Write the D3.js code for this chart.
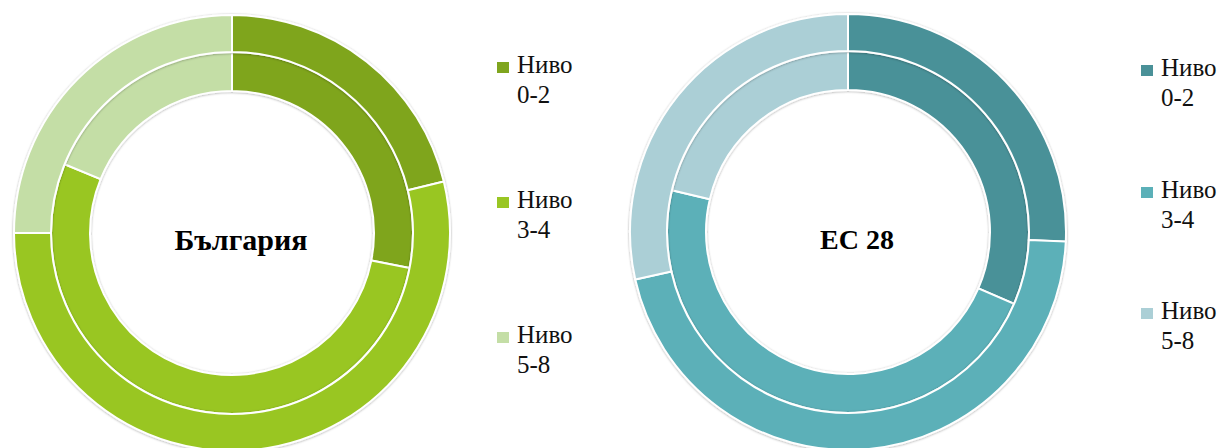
<!DOCTYPE html>
<html>
<head>
<meta charset="utf-8">
<script src="https://cdn.jsdelivr.net/npm/d3@7"></script>
<style>
  body { margin: 0; background: #fff; }
</style>
</head>
<body>
<div id="chart"></div>
<script>
// Data (percent shares, clockwise from 12 o'clock)
var levels = ["Ниво 0-2", "Ниво 3-4", "Ниво 5-8"];
var bgInner = [28.1, 53.1, 18.8];
var bgOuter = [21.2, 53.8, 25.0];
var euInner = [31.5, 47.2, 21.3];
var euOuter = [25.7, 45.8, 28.5];
var greens = ["#7fa51e", "#99c623", "#c4dea6"];
var teals = ["#4a9198", "#5bb0b8", "#abcfd6"];

var serif = "'Liberation Serif', 'Times New Roman', 'DejaVu Serif', serif";

var svgWidth = 1220;
var svgHeight = 448;

var svg = d3.select("#chart")
  .append("svg")
  .attr("width", svgWidth)
  .attr("height", svgHeight)
  .style("font-family", serif);

// soft glow round the rings
var defs = svg.append("defs");
var filt = defs.append("filter").attr("id", "shadow")
  .attr("x", "-10%").attr("y", "-10%").attr("width", "120%").attr("height", "120%");
filt.append("feDropShadow")
  .attr("dx", 0).attr("dy", 0.5)
  .attr("stdDeviation", 1.2)
  .attr("flood-color", "#000")
  .attr("flood-opacity", 0.35);

var pie = d3.pie().sort(null).value(d => d);

// radii of the two rings
var rHole = 142, rMid = 181, rOut = 218;

function drawDonut(cx, cy, inner, outer, colors, label, labelSize) {
  var g = svg.append("g")
    .attr("transform", `translate(${cx}, ${cy})`);

  var rings = [
    { values: inner, arc: d3.arc().innerRadius(rHole).outerRadius(rMid) },
    { values: outer, arc: d3.arc().innerRadius(rMid).outerRadius(rOut) }
  ];

  rings.forEach(ring => {
    g.append("g")
      .attr("filter", "url(#shadow)")
      .selectAll("path")
      .data(pie(ring.values))
      .enter()
      .append("path")
      .attr("d", ring.arc)
      .attr("fill", (d, i) => colors[i])
      .attr("stroke", "#fff")
      .attr("stroke-width", 2);
  });

  g.append("text")
    .attr("x", 9)
    .attr("y", 17)
    .attr("text-anchor", "middle")
    .attr("font-family", serif)
    .attr("font-weight", "bold")
    .attr("font-size", labelSize)
    .attr("fill", "#000")
    .text(label);
}

function drawLegend(x, ys, colors) {
  var lg = svg.append("g");
  levels.forEach((name, i) => {
    var parts = name.split(" ");
    var item = lg.append("g").attr("transform", `translate(${x}, ${ys[i]})`);
    item.append("rect")
      .attr("x", 0)
      .attr("y", -11)
      .attr("width", 12)
      .attr("height", 11)
      .attr("fill", colors[i]);
    var t = item.append("text")
      .attr("font-family", serif)
      .attr("font-size", 25)
      .attr("fill", "#111");
    t.append("tspan").attr("x", 20).attr("y", 0).text(parts[0]);
    t.append("tspan").attr("x", 20).attr("y", 30).text(parts[1]);
  });
}

drawDonut(232, 233, bgInner, bgOuter, greens, "България", 30);
drawDonut(848, 232, euInner, euOuter, teals, "ЕС 28", 28);

drawLegend(497, [73, 208, 343], greens);
drawLegend(1141, [76, 198, 319], teals);
</script>
</body>
</html>
